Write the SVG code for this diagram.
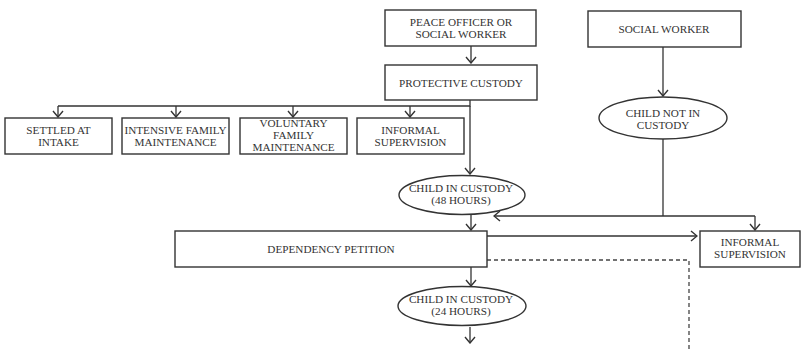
<svg xmlns="http://www.w3.org/2000/svg" width="804" height="349" viewBox="0 0 804 349">
<style>
.box{fill:#fff;stroke:#333;stroke-width:1.4}
.ln{fill:none;stroke:#333;stroke-width:1.3}
.dash{fill:none;stroke:#444;stroke-width:1.3;stroke-dasharray:4 3}
text{font-family:"Liberation Serif","Times New Roman",serif;font-size:11.2px;fill:#333;text-anchor:middle}
</style>
<defs>
<marker id="ah" viewBox="0 0 12 12" refX="11" refY="6" markerWidth="12" markerHeight="12" markerUnits="userSpaceOnUse" orient="auto">
<polyline points="5,1 11,6 5,11" fill="none" stroke="#333" stroke-width="1.4"/>
</marker>
</defs>
<rect width="804" height="349" fill="#fff"/>
<g id="connectors">
<line class="ln" x1="471" y1="46" x2="471" y2="63" marker-end="url(#ah)"/>
<polyline class="ln" points="470,100 470,106 58,106"/>
<line class="ln" x1="470" y1="106" x2="470" y2="174" marker-end="url(#ah)"/>
<line class="ln" x1="58" y1="106" x2="58" y2="117" marker-end="url(#ah)"/>
<line class="ln" x1="176" y1="106" x2="176" y2="117" marker-end="url(#ah)"/>
<line class="ln" x1="293" y1="106" x2="293" y2="117" marker-end="url(#ah)"/>
<line class="ln" x1="410" y1="106" x2="410" y2="117" marker-end="url(#ah)"/>
<line class="ln" x1="663" y1="47" x2="663" y2="96" marker-end="url(#ah)"/>
<line class="ln" x1="663" y1="139" x2="663" y2="216"/>
<line class="ln" x1="755" y1="216" x2="494" y2="216" marker-end="url(#ah)"/>
<line class="ln" x1="755" y1="216" x2="755" y2="230" marker-end="url(#ah)"/>
<line class="ln" x1="471" y1="214" x2="471" y2="230" marker-end="url(#ah)"/>
<line class="ln" x1="487" y1="236" x2="697" y2="236" marker-end="url(#ah)"/>
<polyline class="dash" points="487,260 689,260 689,349"/>
<line class="ln" x1="471" y1="267" x2="471" y2="286" marker-end="url(#ah)"/>
<line class="ln" x1="470" y1="327" x2="470" y2="343" marker-end="url(#ah)"/>
</g>
<g id="peace-officer">
<rect class="box" x="385" y="10" width="151" height="36"/>
<text x="461" y="26">PEACE OFFICER OR</text>
<text x="461" y="38">SOCIAL WORKER</text>
</g>
<g id="protective-custody">
<rect class="box" x="385" y="65" width="152" height="35"/>
<text x="461" y="86.5">PROTECTIVE CUSTODY</text>
</g>
<g id="settled">
<rect class="box" x="5" y="118" width="107" height="36"/>
<text x="58.5" y="133.5">SETTLED AT</text>
<text x="58.5" y="145.5">INTAKE</text>
</g>
<g id="intensive">
<rect class="box" x="122" y="118" width="107" height="36"/>
<text x="175.5" y="133.5">INTENSIVE FAMILY</text>
<text x="175.5" y="145.5">MAINTENANCE</text>
</g>
<g id="voluntary">
<rect class="box" x="240" y="118" width="107" height="36"/>
<text x="293.5" y="127">VOLUNTARY</text>
<text x="293.5" y="139">FAMILY</text>
<text x="293.5" y="151">MAINTENANCE</text>
</g>
<g id="informal-1">
<rect class="box" x="357" y="118" width="107" height="36"/>
<text x="410.5" y="133.5">INFORMAL</text>
<text x="410.5" y="145.5">SUPERVISION</text>
</g>
<g id="social-worker">
<rect class="box" x="588" y="11" width="153" height="36"/>
<text x="664" y="32.5">SOCIAL WORKER</text>
</g>
<g id="child-not-in-custody">
<ellipse class="box" cx="663" cy="118" rx="64" ry="21"/>
<text x="663" y="116.5">CHILD NOT IN</text>
<text x="663" y="128.5">CUSTODY</text>
</g>
<g id="child-48">
<ellipse class="box" cx="462" cy="195" rx="63" ry="19.5"/>
<text x="461" y="192">CHILD IN CUSTODY</text>
<text x="461" y="204">(48 HOURS)</text>
</g>
<g id="dependency-petition">
<rect class="box" x="175" y="231" width="312" height="36"/>
<text x="331" y="253">DEPENDENCY PETITION</text>
</g>
<g id="informal-2">
<rect class="box" x="700" y="231" width="100" height="36"/>
<text x="750" y="245.5">INFORMAL</text>
<text x="750" y="257.5">SUPERVISION</text>
</g>
<g id="child-24">
<ellipse class="box" cx="462" cy="306" rx="64" ry="19.5"/>
<text x="461" y="303">CHILD IN CUSTODY</text>
<text x="461" y="315">(24 HOURS)</text>
</g>
</svg>
